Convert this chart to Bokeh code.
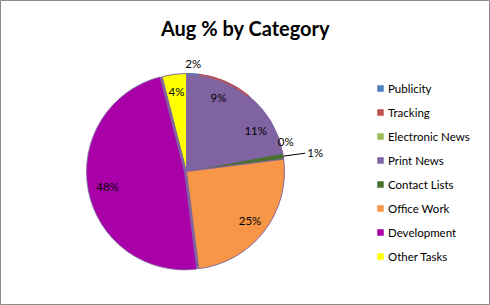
import math
from bokeh.plotting import figure
from bokeh.models import Range1d
from bokeh.core.properties import value
from bokeh.embed import file_html
from bokeh.resources import INLINE

# ---- data ----
categories = ["Publicity", "Tracking", "Electronic News", "Print News",
              "Contact Lists", "Office Work", "Development", "Other Tasks"]
percents = [2, 9, 11, 0, 1, 25, 48, 4]
labels = ["2%", "9%", "11%", "0%", "1%", "25%", "48%", "4%"]
colors = ["#4F81BD", "#C0504D", "#9BBB59", "#8064A2",
          "#4A7031", "#F79646", "#AA00A8", "#FFFF00"]
title = "Aug % by Category"

W, H = 490, 305
FONT = "Lato"

p = figure(width=W, height=H, output_backend="svg", toolbar_location=None,
           x_range=Range1d(0, W), y_range=Range1d(0, H), min_border=0)
p.axis.visible = False
p.grid.visible = False
p.outline_line_color = "#8C8C8C"
p.outline_line_width = 1
p.background_fill_color = "white"
p.border_fill_color = "white"

def Y(ypx):
    return H - ypx

cx, cy, R = 186, Y(171), 98
total = float(sum(percents))
fr = [v / total for v in percents]
starts, ends = [], []
c = 0.0
for f in fr:
    starts.append(c)
    c += f
    ends.append(c)

def ang(frac):
    # clockwise from 12 o'clock -> math angle
    return math.pi / 2 - 2 * math.pi * frac

# drawn fills: the first slices appear rendered in the Print News colour
drawn = [colors[3] if i < 3 else colors[i] for i in range(len(categories))]

# base disk (shows through gaps)
p.scatter(x=[cx], y=[cy], size=2 * R, marker="circle", fill_color=colors[3],
          line_color=None)

for i in range(len(categories)):
    if percents[i] == 0:
        continue
    ox, oy = 0.0, 0.0
    if categories[i] == "Development":
        mid = ang((starts[i] + ends[i]) / 2)
        ox, oy = 2.0 * math.cos(mid), 2.0 * math.sin(mid)
    p.wedge(x=[cx + ox], y=[cy + oy], radius=R,
            start_angle=ang(starts[i]), end_angle=ang(ends[i]),
            direction="clock", fill_color=drawn[i],
            line_color=colors[3], line_width=1, line_alpha=0.9)

# coloured outer rims of the top slices
for i in (0, 1):
    p.arc(x=[cx], y=[cy], radius=R - 0.5, start_angle=ang(starts[i]),
          end_angle=ang(ends[i]), direction="clock",
          line_color=colors[i], line_width=2, line_alpha=0.85)

# data labels
for i in range(len(categories)):
    mid = ang((starts[i] + ends[i]) / 2)
    ex, ey = cx + R * math.cos(mid), cy + R * math.sin(mid)
    if categories[i] == "Contact Lists":
        lx, ly = ex + 22, ey + 3
        p.line(x=[ex, lx], y=[ey, ly], line_color="black", line_width=1)
        p.text(x=[lx + 2], y=[ly + 1], text=[labels[i]], text_font=value(FONT),
               text_font_size="11.5px", text_align="left",
               text_baseline="middle", text_color="black")
        continue
    if categories[i] == "Print News":
        p.text(x=[ex + 3], y=[ey + 5], text=[labels[i]], text_font=value(FONT),
               text_font_size="11.5px", text_align="center",
               text_baseline="bottom", text_color="black")
        continue
    rf = 0.82 if percents[i] >= 3 else 1.10
    lx, ly = cx + rf * R * math.cos(mid), cy + rf * R * math.sin(mid)
    p.text(x=[lx], y=[ly], text=[labels[i]], text_font=value(FONT),
           text_font_size="11.5px", text_align="center",
           text_baseline="middle", text_color="black")

# title
p.text(x=[W / 2], y=[Y(27)], text=[title], text_font=value(FONT),
       text_font_size="20px", text_font_style="bold", text_align="center",
       text_baseline="middle", text_color="black")

# legend
for i, cat in enumerate(categories):
    yy = Y(88 + 24 * i)
    p.scatter(x=[380], y=[yy], marker="square", size=6.5,
              fill_color=colors[i], line_color=None)
    p.text(x=[387.5], y=[yy], text=[cat], text_font=value(FONT),
           text_font_size="11.5px", text_align="left", text_baseline="middle",
           text_color="black")

open("out.html", "w").write(file_html(p, INLINE))
